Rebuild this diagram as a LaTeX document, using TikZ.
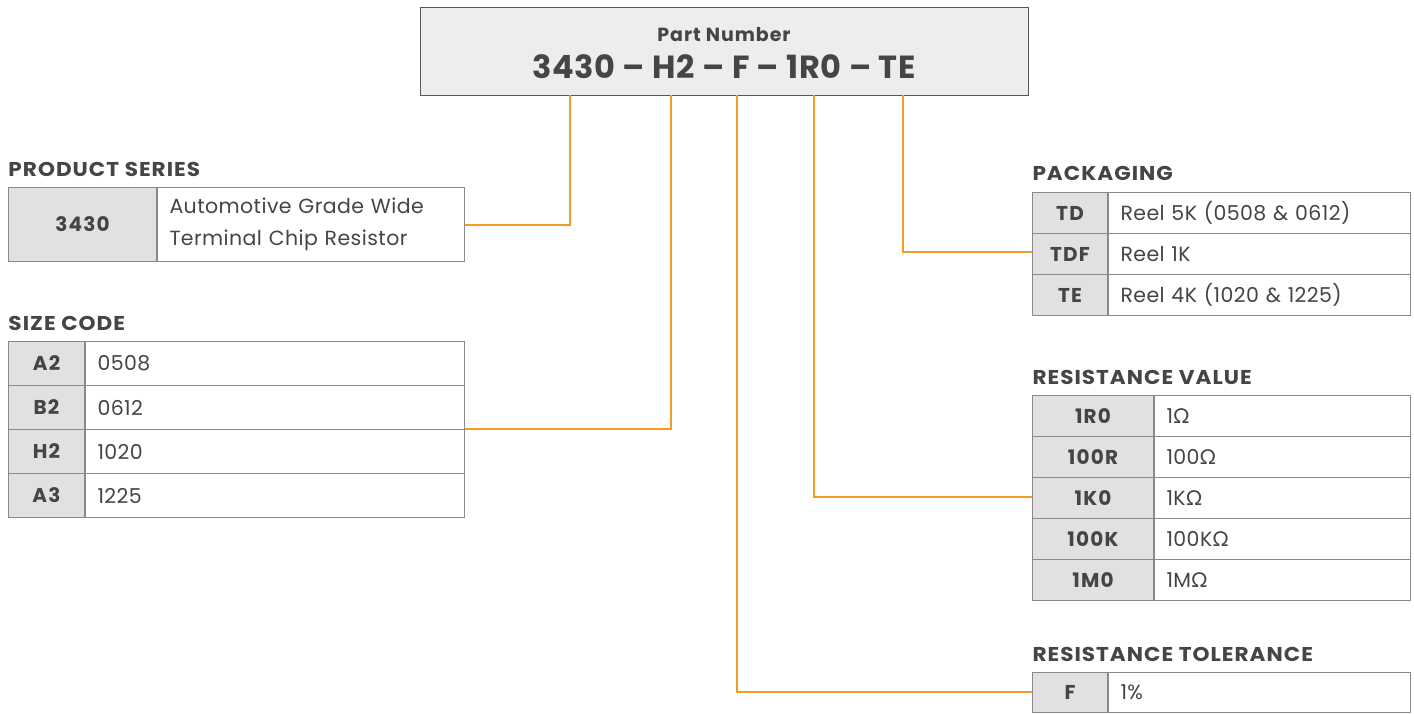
\documentclass[tikz,border=0pt]{standalone}
\usepackage{fontspec}
\setmainfont{Poppins}
\newfontfamily\ohmfont{Lato}
\usetikzlibrary{positioning}
\definecolor{leadorange}{HTML}{F39C21}
\definecolor{textgray}{HTML}{454545}
\definecolor{codefill}{HTML}{E3E1E0}
\definecolor{headfill}{HTML}{EDEDED}
\definecolor{rulegray}{HTML}{8A8A8A}
\newcommand{\ohm}{{\ohmfont Ω}}
\tikzset{
  heading/.style={anchor=base west, inner sep=0, text=textgray,
    font=\bfseries\fontsize{20}{22}\selectfont\addfontfeature{LetterSpace=5,FakeStretch=1.08}},
  codecell/.style={draw=rulegray, fill=codefill, anchor=north west, inner sep=0,
    text=textgray, font=\bfseries\fontsize{20}{22}\selectfont\addfontfeature{LetterSpace=6}},
  desccell/.style={draw=rulegray, fill=white, anchor=north west, inner xsep=12pt,
    inner ysep=0, align=left, text=textgray,
    font=\fontsize{20.5}{32}\selectfont\addfontfeature{LetterSpace=2}},
  leader/.style={draw=leadorange, line width=1.6pt}
}
\begin{document}
\begin{tikzpicture}[x=1pt, y=-1pt, line width=1pt]
\useasboundingbox (0,0) rectangle (1414,713);
% part number box
\node[draw=textgray!90, fill=headfill, minimum width=608, minimum height=88,
  anchor=north west, inner sep=0] (pn) at (420,7) {};
\node[text=textgray, font=\bfseries\fontsize{19}{22}\selectfont\addfontfeature{LetterSpace=5}]
  (pn-title) at (724,35) {Part Number};
\node[text=textgray, font=\bfseries\fontsize{32}{36}\selectfont\addfontfeature{LetterSpace=2}]
  (pn-code) at (724,67) {3430 – H2 – F – 1R0 – TE};
% taps on the box
\coordinate (tap-ps) at (570,95);
\coordinate (tap-sc) at (671,95);
\coordinate (tap-tol) at (737,95);
\coordinate (tap-rv) at (814,95);
\coordinate (tap-pk) at (903,95);
% leaders
\draw[leader] (tap-ps) |- (463,225) coordinate (end-ps);
\draw[leader] (tap-sc) |- (463,429) coordinate (end-sc);
\draw[leader] (tap-tol) |- (1032,692) coordinate (end-tol);
\draw[leader] (tap-rv) |- (1032,497) coordinate (end-rv);
\draw[leader] (tap-pk) |- (1032,252) coordinate (end-pk);
% product series
\node[heading] (ps-head) at (8,176) {PRODUCT SERIES};
\node[codecell, minimum width=148, minimum height=74] (ps-code) at (8,187) {3430};
\node[desccell, text width=283, minimum height=74] (ps-desc) at (ps-code.north east)
  {Automotive Grade Wide\\Terminal Chip Resistor};
% size code
\node[heading] (sc-head) at (8,330) {SIZE CODE};
\foreach \code/\val [count=\i] in {A2/0508, B2/0612, H2/1020, A3/1225}{
  \node[codecell, minimum width=76, minimum height=44] (sc-\i) at (8,{341+44*(\i-1)}) {\code};
  \node[desccell, text width=355, minimum height=44] (scv-\i) at (sc-\i.north east) {\val};
}
% packaging
\node[heading] (pk-head) at (1032,180) {PACKAGING};
\foreach \code/\val [count=\i] in {TD/Reel 5K (0508 \& 0612), TDF/Reel 1K, TE/Reel 4K (1020 \& 1225)}{
  \node[codecell, minimum width=75, minimum height=41] (pk-\i) at (1032,{192+41*(\i-1)}) {\code};
  \node[desccell, text width=278, minimum height=41] (pkv-\i) at (pk-\i.north east) {\val};
}
% resistance value
\node[heading] (rv-head) at (1032,384) {RESISTANCE VALUE};
\foreach \code/\val [count=\i] in {1R0/1\ohm, 100R/100\ohm, 1K0/1K\ohm, 100K/100K\ohm, 1M0/1M\ohm}{
  \node[codecell, minimum width=121, minimum height=41] (rv-\i) at (1032,{395+41*(\i-1)}) {\code};
  \node[desccell, text width=232, minimum height=41] (rvv-\i) at (rv-\i.north east) {\val};
}
% resistance tolerance
\node[heading] (tol-head) at (1032,661) {RESISTANCE TOLERANCE};
\node[codecell, minimum width=75, minimum height=40] (tol-code) at (1032,672) {F};
\node[desccell, text width=278, minimum height=40] (tol-val) at (tol-code.north east) {1\%};
\end{tikzpicture}
\end{document}
